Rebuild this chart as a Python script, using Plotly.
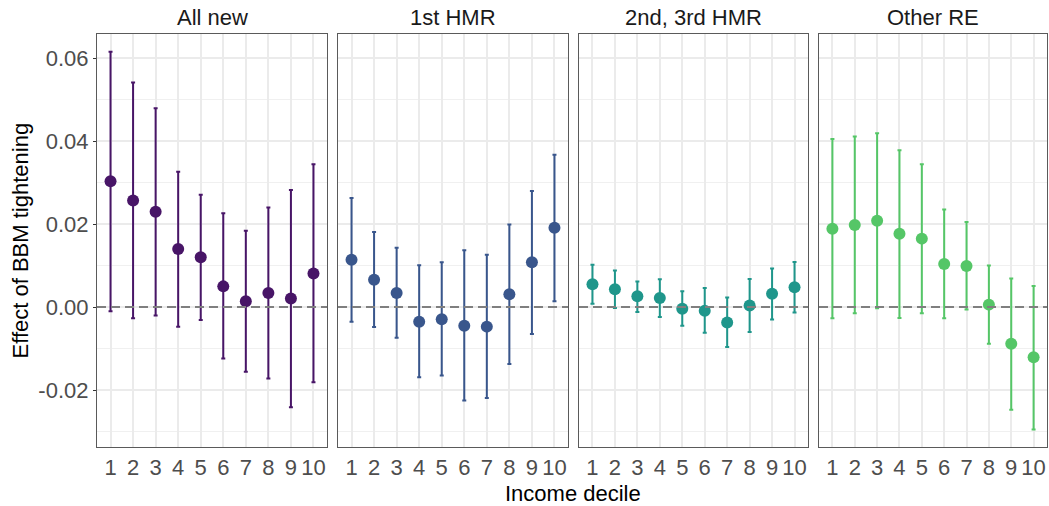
import plotly.graph_objects as go

panels = ["All new", "1st HMR", "2nd, 3rd HMR", "Other RE"]
colors = ["#481567", "#39568C", "#1F968B", "#55C667"]
deciles = [1, 2, 3, 4, 5, 6, 7, 8, 9, 10]
x_ticktext = ["1", "2", "3", "4", "5", "6", "7", "8", "9", "10"]

est_all_new = [0.0303, 0.0257, 0.0230, 0.0140, 0.0120, 0.0050, 0.0014, 0.0034, 0.0021, 0.0081]
hi_all_new = [0.0615, 0.0541, 0.0479, 0.0326, 0.0271, 0.0226, 0.0184, 0.0240, 0.0282, 0.0344]
lo_all_new = [-0.0010, -0.0027, -0.0020, -0.0047, -0.0031, -0.0124, -0.0156, -0.0172, -0.0241, -0.0181]

est_1st = [0.0114, 0.0066, 0.0034, -0.0035, -0.0029, -0.0045, -0.0047, 0.0031, 0.0108, 0.0191]
hi_1st = [0.0263, 0.0181, 0.0143, 0.0101, 0.0108, 0.0137, 0.0126, 0.0199, 0.0280, 0.0367]
lo_1st = [-0.0035, -0.0048, -0.0074, -0.0169, -0.0165, -0.0225, -0.0219, -0.0137, -0.0065, 0.0014]

est_2nd3rd = [0.0055, 0.0043, 0.0026, 0.0022, -0.0004, -0.0009, -0.0037, 0.0004, 0.0032, 0.0048]
hi_2nd3rd = [0.0102, 0.0088, 0.0062, 0.0067, 0.0038, 0.0046, 0.0023, 0.0068, 0.0093, 0.0109]
lo_2nd3rd = [0.0008, -0.0002, -0.0012, -0.0024, -0.0045, -0.0062, -0.0096, -0.0060, -0.0030, -0.0013]

est_other = [0.0189, 0.0198, 0.0208, 0.0177, 0.0165, 0.0104, 0.0099, 0.0006, -0.0088, -0.0121]
hi_other = [0.0405, 0.0411, 0.0419, 0.0378, 0.0344, 0.0235, 0.0205, 0.0100, 0.0069, 0.0051]
lo_other = [-0.0027, -0.0015, -0.0003, -0.0026, -0.0015, -0.0027, -0.0006, -0.0088, -0.0247, -0.0295]

y_tickvals = [-0.02, 0.00, 0.02, 0.04, 0.06]
y_ticktext = ["-0.02", "0.00", "0.02", "0.04", "0.06"]

estimates = [est_all_new, est_1st, est_2nd3rd, est_other]
highs = [hi_all_new, hi_1st, hi_2nd3rd, hi_other]
lows = [lo_all_new, lo_1st, lo_2nd3rd, lo_other]

W, H = 1049, 506
ML, MR, MT, MB = 97, 2, 34, 59
PW = W - ML - MR
panel_px = [(97, 327), (338, 568), (579, 808), (819, 1047)]
domains = [[(a - ML) / PW, (b - ML) / PW] for a, b in panel_px]

FONT = "Liberation Sans, Arial, sans-serif"
FS = 22
fig = go.Figure()

for i in range(4):
    xa = "x" if i == 0 else f"x{i+1}"
    ya = "y" if i == 0 else f"y{i+1}"
    est = estimates[i]
    plus = [h - e for h, e in zip(highs[i], est)]
    minus = [e - l for e, l in zip(est, lows[i])]
    fig.add_shape(type="line", xref=f"{xa} domain", yref=ya, x0=0, x1=1, y0=0, y1=0,
                  line=dict(color="#7f7f7f", width=2, dash="9px,5px"), layer="above")
    fig.add_trace(go.Scatter(
        x=deciles, y=est, mode="markers", xaxis=xa, yaxis=ya,
        marker=dict(color=colors[i], size=12, line=dict(width=0)),
        error_y=dict(type="data", array=plus, arrayminus=minus, symmetric=False,
                     color=colors[i], thickness=2, width=2),
        showlegend=False, hoverinfo="skip"))

    axkey = "xaxis" if i == 0 else f"xaxis{i+1}"
    aykey = "yaxis" if i == 0 else f"yaxis{i+1}"
    fig.layout[axkey] = dict(
        domain=domains[i], anchor=ya, range=[0.4, 10.6],
        tickvals=deciles, ticktext=x_ticktext,
        showgrid=True, gridcolor="#ebebeb", gridwidth=1.6,
        zeroline=False, showline=True, mirror=True, linecolor="#5a5a5a", linewidth=1.2,
        ticks="",
        tickfont=dict(family=FONT, size=FS, color="#4d4d4d"))
    fig.layout[aykey] = dict(
        domain=[0, 1], anchor=xa, range=[-0.0337, 0.0658],
        tickvals=y_tickvals, ticktext=y_ticktext, showticklabels=(i == 0),
        showgrid=True, gridcolor="#ebebeb", gridwidth=1.6,
        minor=dict(dtick=0.01, tick0=0.01, showgrid=True, gridcolor="#f0f0f0", gridwidth=0.9, ticks=""),
        zeroline=False, showline=True, mirror=True, linecolor="#5a5a5a", linewidth=1.2,
        ticks="outside" if i == 0 else "", ticklen=3, tickcolor="#333333",
        tickfont=dict(family=FONT, size=FS, color="#4d4d4d"))
    fig.add_annotation(text=panels[i], xref=f"{xa} domain", yref="paper", x=0.5, y=1,
                       yanchor="middle", yshift=17, showarrow=False,
                       font=dict(family=FONT, size=FS, color="#1a1a1a"))

fig.add_annotation(text="Income decile", xref="paper", yref="paper",
                   x=(573 - ML) / PW, y=0, yanchor="middle", yshift=-46, showarrow=False,
                   font=dict(family=FONT, size=FS, color="#000000"))
fig.add_annotation(text="Effect of BBM tightening", xref="paper", yref="paper",
                   x=(20 - ML) / PW, y=0.5,
                   xanchor="center", textangle=-90, showarrow=False,
                   font=dict(family=FONT, size=FS, color="#000000"))

fig.update_layout(width=W, height=H, margin=dict(l=ML, r=MR, t=MT, b=MB),
                  plot_bgcolor="white", paper_bgcolor="white")
fig.write_html("out.html", config={"displayModeBar": False},
               post_script="document.body.style.margin='0px';document.body.style.overflow='hidden';")
